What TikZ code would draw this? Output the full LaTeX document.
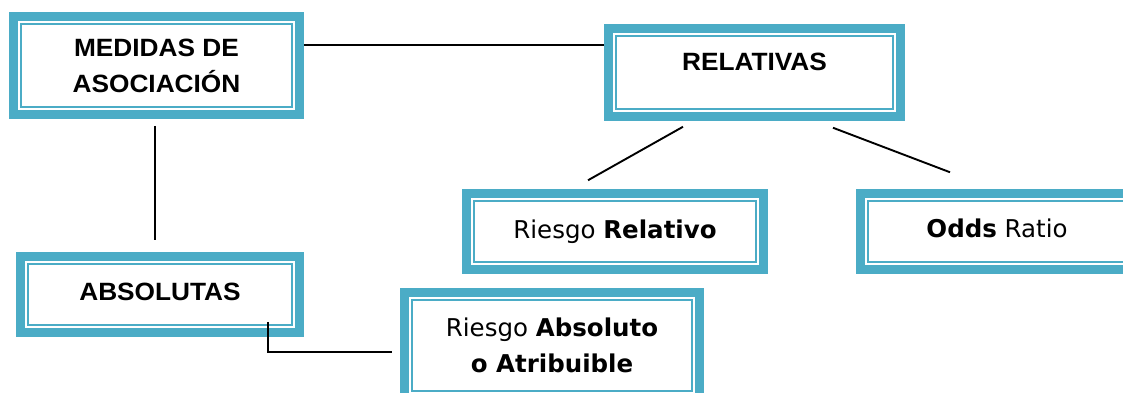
\documentclass[tikz,border=0pt]{standalone}
\usepackage{fontspec}
\setmainfont{Liberation Sans}
\newfontfamily\capsfont[FakeStretch=1.05]{Liberation Sans}
\newfontfamily\labelfont{DejaVu Sans}
\usetikzlibrary{calc,backgrounds}
\definecolor{frameblue}{RGB}{75,172,198}
\tikzset{
  framebox/.style={
    draw=frameblue, line width=8.5pt, fill=white,
    outer sep=0pt, inner sep=0pt, align=center,
    path picture={
      \draw[frameblue, line width=2pt]
        ($(path picture bounding box.south west)+(7.6pt,7.6pt)$) rectangle
        ($(path picture bounding box.north east)-(7.6pt,7.6pt)$);
    }},
  capstext/.style={font=\capsfont\bfseries\fontsize{25}{36}\selectfont},
  mixtext/.style={font=\labelfont\fontsize{24.5}{36}\selectfont},
  link/.style={draw=black, line width=1.9pt}
}
\begin{document}
\begin{tikzpicture}[x=1pt,y=-1pt]
  \useasboundingbox (0,0) rectangle (1123,392);

  % concept boxes
  \node[framebox, capstext, minimum width=286pt, minimum height=98pt]
    (medidas) at (156.5,65.5) {MEDIDAS DE\\ASOCIACIÓN};
  \node[framebox, capstext, minimum width=292pt, minimum height=88pt,
        text height=18pt, text depth=22pt]
    (relativas) at (754.5,72.5) {RELATIVAS};
  \node[framebox, capstext, minimum width=279pt, minimum height=76pt,
        text height=18pt, text depth=7pt]
    (absolutas) at (160,294.5) {ABSOLUTAS};
  \node[framebox, mixtext, minimum width=297pt, minimum height=76pt,
        text height=18pt, text depth=4pt]
    (rrel) at (615,231.5) {Riesgo \textbf{Relativo}};
  \node[framebox, mixtext, minimum width=273pt, minimum height=76pt,
        text height=18pt, text depth=6pt]
    (odds) at (997,231.5) {\textbf{Odds} Ratio};
  \node[framebox, mixtext, minimum width=295pt, minimum height=106pt]
    (rabs) at (552,345.5) {Riesgo \textbf{Absoluto}\\\textbf{o Atribuible}};

  % connectors running under the frames
  \begin{scope}[on background layer]
    \draw[link] ($(medidas.east)+(0,-20.5)$) -- ($(relativas.west)+(0,-27.5)$);
    \draw[link] ($(medidas.south)+(-1.5,11.25)$) -- ($(absolutas.north)+(-5,-16.25)$);
    \draw[link] ($(relativas.south)+(-71.5,10.25)$) -- ($(rrel.north)+(-27,-13.25)$);
    \draw[link] ($(relativas.south)+(78.5,11.25)$) -- ($(odds.north)+(-47,-21.25)$);
  \end{scope}

  % elbow from ABSOLUTAS to the absolute-risk box
  \draw[link] ($(absolutas.south)+(108,-10.75)$) |- ($(rabs.west)+(-12.25,6.5)$);
\end{tikzpicture}
\end{document}
